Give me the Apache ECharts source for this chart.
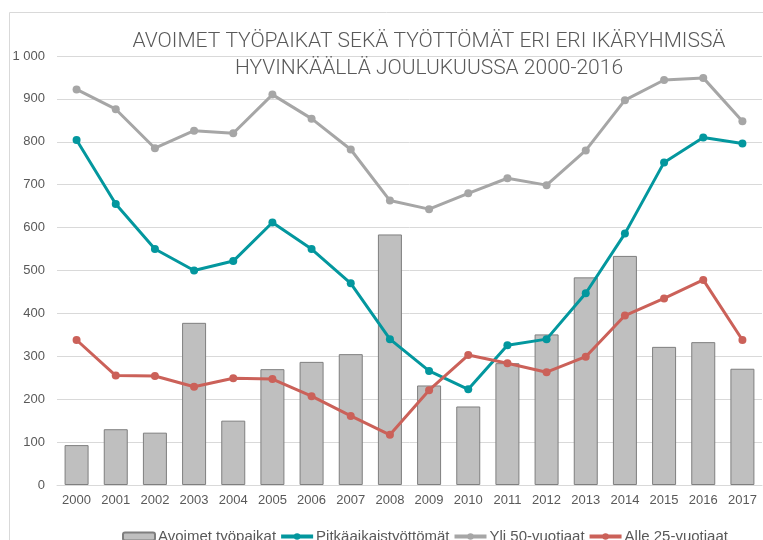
<!DOCTYPE html>
<html>
<head>
<meta charset="utf-8">
<script src="https://cdn.jsdelivr.net/npm/echarts@6/dist/echarts.min.js"></script>
<style>
  html, body { margin: 0; padding: 0; background: #fff; }
  #chart { width: 763px; height: 540px; }
</style>
</head>
<body>
<div id="chart"></div>
<script>
const years = ['2000', '2001', '2002', '2003', '2004', '2005', '2006', '2007', '2008',
  '2009', '2010', '2011', '2012', '2013', '2014', '2015', '2016', '2017']
// Avoimet työpaikat (pylväät)
const avoimet = [93, 130, 122, 378, 150, 270, 287, 305, 584, 232, 183, 284, 351, 484, 534, 322, 333, 271]
// Pitkäaikaistyöttömät
const pitkaaikais = [804, 655, 550, 500, 522, 612, 550, 470, 340, 266, 223, 326, 340, 447, 586, 752, 810, 796]
// Yli 50-vuotiaat
const yli50 = [922, 876, 785, 826, 820, 910, 854, 782, 663, 643, 680, 715, 699, 780, 897, 944, 949, 848]
// Alle 25-vuotiaat
const alle25 = [338, 255, 254, 229, 249, 247, 207, 161, 117, 221, 303, 284, 263, 299, 395, 435, 478, 338]

const chart = echarts.init(document.getElementById('chart'))

const lineSeries = (name, data, color) => ({
  name: name,
  type: 'line',
  data: data,
  symbol: 'circle',
  symbolSize: 8,
  lineStyle: { width: 3, color: color },
  itemStyle: { color: color },
})

chart.setOption({
  animation: false,
  textStyle: { fontFamily: 'Liberation Sans' },
  title: {
    text: 'AVOIMET TYÖPAIKAT SEKÄ TYÖTTÖMÄT ERI ERI IKÄRYHMISSÄ\nHYVINKÄÄLLÄ JOULUKUUSSA 2000-2016',
    left: 424,
    top: 23,
    textAlign: 'center',
    textStyle: {
      fontFamily: 'Roboto',
      fontWeight: 300,
      fontSize: 21,
      lineHeight: 27,
      color: '#595959',
    },
  },
  // kaavion reunus
  graphic: [
    {
      type: 'rect',
      shape: { x: 9.5, y: 12.5, width: 800, height: 600 },
      style: { fill: 'none', stroke: '#d9d9d9', lineWidth: 1 },
      silent: true,
    },
  ],
  grid: {
    left: 57,
    right: 1,
    top: 56,
    bottom: 55,
  },
  legend: {
    left: 117,
    top: 524,
    itemGap: 3,
    itemWidth: 32,
    itemHeight: 8,
    lineStyle: { width: 4 },
    textStyle: { fontSize: 15, color: '#595959', padding: [0, 0, 0, -2] },
    data: ['Avoimet työpaikat', 'Pitkäaikaistyöttömät', 'Yli 50-vuotiaat', 'Alle 25-vuotiaat'],
  },
  xAxis: {
    type: 'category',
    data: years,
    axisLine: { lineStyle: { color: '#d9d9d9', width: 1 } },
    axisTick: { show: false },
    axisLabel: { color: '#595959', fontSize: 13, margin: 9 },
  },
  yAxis: {
    type: 'value',
    min: 0,
    max: 1000,
    interval: 100,
    axisLine: { show: false },
    axisTick: { show: false },
    splitLine: { lineStyle: { color: '#d9d9d9', width: 1 } },
    axisLabel: {
      color: '#595959',
      fontSize: 13,
      margin: 12,
      formatter: v => (v >= 1000 ? String(v).replace(/(\d)(\d{3})$/, '$1 $2') : String(v)),
    },
  },
  series: [
    {
      name: 'Avoimet työpaikat',
      type: 'bar',
      data: avoimet,
      barWidth: 24,
      itemStyle: { color: '#bfbfbf', borderColor: '#7f7f7f', borderWidth: 1 },
    },
    lineSeries('Pitkäaikaistyöttömät', pitkaaikais, '#03979e'),
    lineSeries('Yli 50-vuotiaat', yli50, '#a6a6a6'),
    lineSeries('Alle 25-vuotiaat', alle25, '#cb6159'),
  ],
})
</script>
</body>
</html>
